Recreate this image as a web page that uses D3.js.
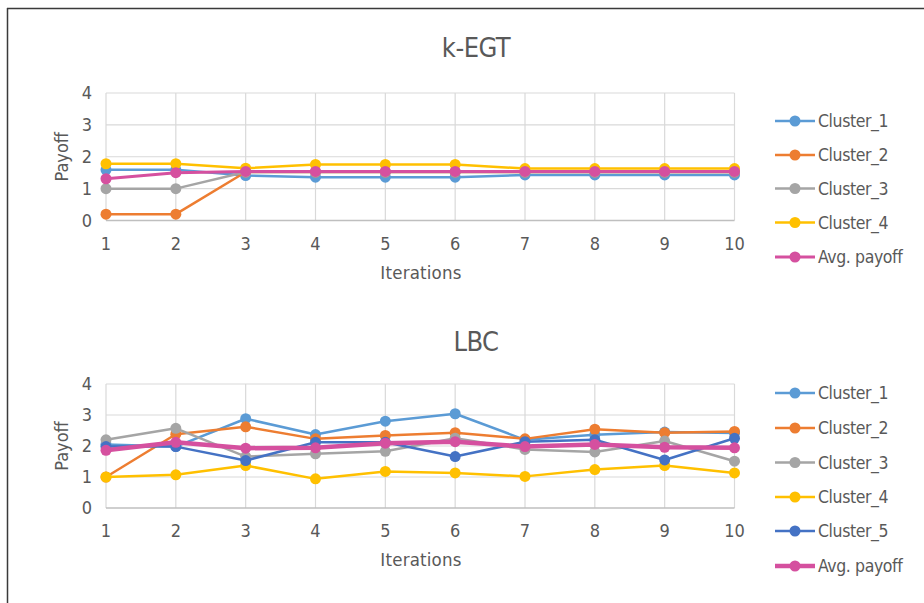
<!DOCTYPE html>
<html>
<head>
<meta charset="utf-8">
<script src="https://cdn.jsdelivr.net/npm/d3@7"></script>
<style>
  html, body { margin: 0; padding: 0; background: #fff; }
  svg { display: block; }
  text { font-family: "DejaVu Sans Condensed", "DejaVu Sans", sans-serif; fill: #595959; }
</style>
</head>
<body>
<svg id="chart" width="924" height="603"></svg>
<script>
// Iterations on the x axis
const iterations = [1, 2, 3, 4, 5, 6, 7, 8, 9, 10];
const yTicks = [0, 1, 2, 3, 4];

// k-EGT payoffs per cluster
const kegtCluster1 = [1.59, 1.59, 1.41, 1.36, 1.36, 1.36, 1.43, 1.43, 1.43, 1.43];
const kegtCluster2 = [0.2, 0.2, 1.52, 1.52, 1.52, 1.52, 1.52, 1.52, 1.52, 1.52];
const kegtCluster3 = [1.0, 1.0, 1.52, 1.52, 1.52, 1.52, 1.52, 1.52, 1.52, 1.52];
const kegtCluster4 = [1.78, 1.78, 1.64, 1.76, 1.76, 1.76, 1.63, 1.63, 1.63, 1.63];
const kegtAvg      = [1.31, 1.50, 1.54, 1.54, 1.54, 1.54, 1.54, 1.54, 1.54, 1.54];

// LBC payoffs per cluster
const lbcCluster1 = [2.05, 1.98, 2.88, 2.37, 2.80, 3.04, 2.20, 2.36, 2.45, 2.42];
const lbcCluster2 = [1.0, 2.38, 2.62, 2.23, 2.34, 2.43, 2.23, 2.54, 2.43, 2.47];
const lbcCluster3 = [2.2, 2.57, 1.66, 1.75, 1.83, 2.25, 1.89, 1.81, 2.16, 1.51];
const lbcCluster4 = [1.0, 1.07, 1.37, 0.94, 1.18, 1.13, 1.02, 1.24, 1.37, 1.13];
const lbcCluster5 = [1.98, 1.98, 1.53, 2.12, 2.12, 1.66, 2.14, 2.20, 1.55, 2.25];
const lbcAvg      = [1.86, 2.12, 1.93, 1.94, 2.09, 2.14, 1.98, 2.05, 1.96, 1.94];

const colors = {
  c1: "#5B9BD5", c2: "#ED7D31", c3: "#A5A5A5", c4: "#FFC000", c5: "#4472C4", avg: "#D5509F"
};

const svg = d3.select("#chart");

// outer frame (top and left edges)
svg.append("line").attr("x1", 7).attr("x2", 924).attr("y1", 8.5).attr("y2", 8.5)
  .attr("stroke", "#3a3a3a").attr("stroke-width", 1.5);
svg.append("line").attr("x1", 7.5).attr("x2", 7.5).attr("y1", 8).attr("y2", 603)
  .attr("stroke", "#3a3a3a").attr("stroke-width", 1.5);

function panel(cfg) {
  const g = svg.append("g");
  const x = d3.scaleLinear().domain([1, 10]).range([106, 734.5]);
  const y = d3.scaleLinear().domain([0, 4]).range([cfg.bottom, cfg.top]);

  // horizontal gridlines
  g.append("g").selectAll("line").data(yTicks.filter(d => d > 0)).join("line")
    .attr("x1", x(1)).attr("x2", x(10))
    .attr("y1", d => y(d)).attr("y2", d => y(d))
    .attr("stroke", "#D9D9D9").attr("stroke-width", 1.2);
  // vertical gridlines
  g.append("g").selectAll("line").data(iterations).join("line")
    .attr("x1", d => x(d)).attr("x2", d => x(d))
    .attr("y1", y(4)).attr("y2", y(0))
    .attr("stroke", "#D9D9D9").attr("stroke-width", 1.2);
  // x axis line
  g.append("line").attr("x1", x(1)).attr("x2", x(10)).attr("y1", y(0)).attr("y2", y(0))
    .attr("stroke", "#BFBFBF").attr("stroke-width", 1.5);

  // tick labels
  g.append("g").selectAll("text").data(yTicks).join("text")
    .attr("x", 92).attr("y", d => y(d)).attr("dy", "0.35em")
    .attr("text-anchor", "end").attr("font-size", 18).text(d => d);
  g.append("g").selectAll("text").data(iterations).join("text")
    .attr("x", d => x(d)).attr("y", y(0) + 23).attr("dy", "0.35em")
    .attr("text-anchor", "middle").attr("font-size", 18).text(d => d);

  // titles
  g.append("text").attr("x", 476).attr("y", cfg.titleY).attr("dy", "0.35em")
    .attr("text-anchor", "middle").attr("font-size", 27).attr("letter-spacing", -0.5).text(cfg.title);
  g.append("text").attr("x", 421).attr("y", cfg.bottom + 52).attr("dy", "0.35em")
    .attr("text-anchor", "middle").attr("font-size", 18.5).attr("letter-spacing", 0.2).text("Iterations");
  g.append("text")
    .attr("transform", `translate(62,${(y(0) + y(4)) / 2}) rotate(-90)`)
    .attr("dy", "0.35em").attr("text-anchor", "middle").attr("font-size", 18).text("Payoff");

  const line = d3.line().x((d, i) => x(iterations[i])).y(d => y(d));

  cfg.series.forEach(s => {
    const sg = g.append("g");
    sg.append("path").datum(s.values).attr("d", line)
      .attr("fill", "none").attr("stroke", s.color).attr("stroke-width", s.width)
      .attr("stroke-linejoin", "round");
    sg.selectAll("circle").data(s.values).join("circle")
      .attr("cx", (d, i) => x(iterations[i])).attr("cy", d => y(d))
      .attr("r", 5.5).attr("fill", s.color);
  });

  // legend
  const lg = g.append("g");
  cfg.series.forEach((s, i) => {
    const ly = cfg.legendY[i];
    lg.append("line").attr("x1", 775).attr("x2", 815).attr("y1", ly).attr("y2", ly)
      .attr("stroke", s.color).attr("stroke-width", s.width);
    lg.append("circle").attr("cx", 795).attr("cy", ly).attr("r", 5.5).attr("fill", s.color);
    lg.append("text").attr("x", 818).attr("y", ly).attr("dy", "0.35em")
      .attr("font-size", 17.5).attr("letter-spacing", -0.4).text(s.name);
  });
}

panel({
  title: "k-EGT", titleY: 48, top: 93, bottom: 220.5,
  legendY: [121, 155, 188.5, 222.5, 257],
  series: [
    { name: "Cluster_1", values: kegtCluster1, color: colors.c1, width: 2.5 },
    { name: "Cluster_2", values: kegtCluster2, color: colors.c2, width: 2.5 },
    { name: "Cluster_3", values: kegtCluster3, color: colors.c3, width: 2.5 },
    { name: "Cluster_4", values: kegtCluster4, color: colors.c4, width: 2.5 },
    { name: "Avg. payoff", values: kegtAvg, color: colors.avg, width: 3 }
  ]
});

panel({
  title: "LBC", titleY: 342, top: 384, bottom: 508,
  legendY: [393, 428, 462.5, 497, 531, 566],
  series: [
    { name: "Cluster_1", values: lbcCluster1, color: colors.c1, width: 2.5 },
    { name: "Cluster_2", values: lbcCluster2, color: colors.c2, width: 2.5 },
    { name: "Cluster_3", values: lbcCluster3, color: colors.c3, width: 2.5 },
    { name: "Cluster_4", values: lbcCluster4, color: colors.c4, width: 2.5 },
    { name: "Cluster_5", values: lbcCluster5, color: colors.c5, width: 2.5 },
    { name: "Avg. payoff", values: lbcAvg, color: colors.avg, width: 4.5 }
  ]
});
</script>
</body>
</html>
